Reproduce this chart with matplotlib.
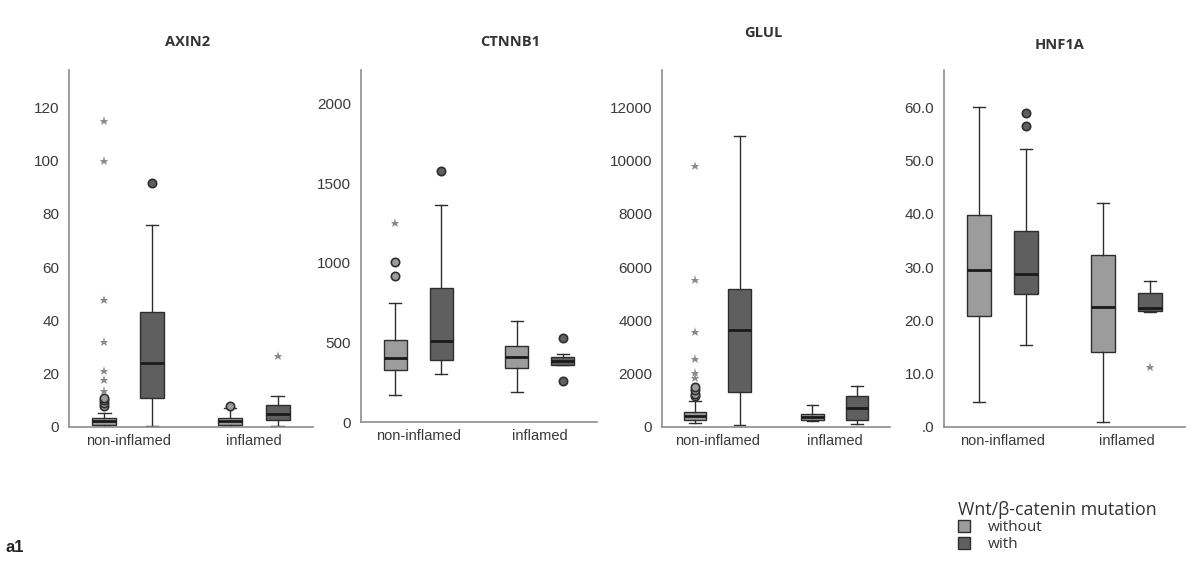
import numpy as np
import matplotlib
matplotlib.use("Agg")
import matplotlib.pyplot as plt
from matplotlib.patches import Patch
from matplotlib.ticker import FuncFormatter

plt.rcParams['font.family'] = ['Liberation Sans', 'DejaVu Sans']

genes = ["AXIN2", "CTNNB1", "GLUL", "HNF1A"]
groups = ["non-inflamed", "inflamed"]

# box stats per gene: order = NI without, NI with, I without, I with
# (whislo, q1, med, q3, whishi)
axin2_box = [(0.0, 0.9, 2.1, 3.5, 5.4), (0.3, 10.7, 24.2, 43.0, 76.0),
             (0.0, 0.9, 2.1, 3.5, 7.1), (0.3, 2.8, 5.0, 8.4, 11.5)]
axin2_circ = [[8.0, 9.0, 10.0, 11.0], [91.7], [8.0], []]
axin2_star = [[13.5, 17.5, 21.0, 32.0, 47.6, 100.0, 115.0], [], [], [26.8]]

ctnnb1_box = [(169, 329, 402, 512, 750), (304, 388, 506, 840, 1365),
              (188, 340, 406, 479, 637), (356, 356, 385, 410, 427)]
ctnnb1_circ = [[919, 1006], [1573], [], [256, 527]]
ctnnb1_star = [[1252], [], [], []]

glul_box = [(137, 262, 412, 575, 975), (62, 1325, 3625, 5162, 10937),
            (225, 262, 387, 500, 812), (100, 250, 700, 1162, 1537)]
glul_circ = [[1150, 1250, 1400, 1500], [], [], []]
glul_star = [[1825, 2012, 2537, 3562, 5512, 9787], [], [], []]

hnf1a_box = [(4.6, 20.9, 29.4, 39.8, 60.0), (15.3, 25.0, 28.8, 36.8, 52.1),
             (0.9, 14.0, 22.6, 32.2, 42.1), (21.5, 21.8, 22.4, 25.1, 27.4)]
hnf1a_circ = [[], [56.4, 59.0], [], []]
hnf1a_star = [[], [], [], [11.2]]

ylims = [(0, 134), (0, 2210), (0, 13400), (0, 67)]
yticks = [np.arange(0, 121, 20), np.arange(0, 2001, 500),
          np.arange(0, 12001, 2000), np.arange(0, 61, 10)]

# pixel boxes of the axes: left, right, top, bottom
ax_px = [(69, 313, 70, 427), (361, 597, 70, 422), (662, 890, 70, 427), (944, 1185, 70, 427)]
title_px = [(188, 42), (510, 42), (763, 33), (1060, 45)]

light = "#9c9c9c"
dark = "#5f5f5f"
edge = "#2e2e2e"
W, H = 1192, 572

fig = plt.figure(figsize=(W / 100, H / 100), dpi=100)

all_box = [axin2_box, ctnnb1_box, glul_box, hnf1a_box]
all_circ = [axin2_circ, ctnnb1_circ, glul_circ, hnf1a_circ]
all_star = [axin2_star, ctnnb1_star, glul_star, hnf1a_star]

pos = [-0.19, 0.19, 0.81, 1.19]
cols = [light, dark, light, dark]

for i in range(4):
    l, r, t, b = ax_px[i]
    ax = fig.add_axes([l / W, 1 - b / H, (r - l) / W, (b - t) / H])
    stats = []
    for lo, q1, med, q3, hi in all_box[i]:
        stats.append(dict(whislo=lo, q1=q1, med=med, q3=q3, whishi=hi, fliers=[]))
    res = ax.bxp(stats, positions=pos, widths=0.19, patch_artist=True,
                 showfliers=False,
                 boxprops=dict(edgecolor=edge, linewidth=1.0),
                 medianprops=dict(color="#1a1a1a", linewidth=2.0),
                 whiskerprops=dict(color=edge, linewidth=1.0),
                 capprops=dict(color=edge, linewidth=1.0), capwidths=0.1)
    for p, c in zip(res['boxes'], cols):
        p.set_facecolor(c)
    for k in range(4):
        c = all_circ[i][k]
        if c:
            ax.plot([pos[k]] * len(c), c, 'o', ms=6, mfc=cols[k], mec=edge, mew=1.2)
        s = all_star[i][k]
        if s:
            ax.plot([pos[k]] * len(s), s, '*', ms=6.5, color="#8a8a8a", mew=0)
    ax.set_xlim(-0.47, 1.47)
    ax.set_ylim(*ylims[i])
    ax.set_yticks(yticks[i])
    if i == 3:
        ax.yaxis.set_major_formatter(FuncFormatter(lambda v, p: ".0" if v == 0 else f"{v:.1f}"))
    ax.set_xticks([0, 1])
    ax.set_xticklabels(groups)
    ax.tick_params(axis="y", length=0, labelsize=11, labelcolor="#3a3a3a", pad=7)
    ax.tick_params(axis="x", length=0, labelsize=10.5, labelcolor="#3a3a3a", pad=5)
    for sp in ["top", "right"]:
        ax.spines[sp].set_visible(False)
    for sp in ["left", "bottom"]:
        ax.spines[sp].set_color("#8c8c8c")
        ax.spines[sp].set_linewidth(1.2)
    tx, ty = title_px[i]
    fig.text(tx / W, 1 - ty / H, genes[i], ha="center", va="center",
             fontsize=10.5, fontweight="bold", color="#333333", family="Open Sans")

handles = [Patch(facecolor=light, edgecolor=edge, label="without"),
           Patch(facecolor=dark, edgecolor=edge, label="with")]
leg = fig.legend(handles=handles, loc="upper left", bbox_to_anchor=(947 / W, 1 - 490 / H),
                 frameon=False, title="Wnt/β-catenin mutation", alignment="left",
                 prop=dict(family="Open Sans", size=11), handlelength=0.8, handleheight=0.8,
                 handletextpad=1.2, labelspacing=0.1, borderpad=0.2)
leg.get_title().set_fontsize(12.8)
leg.get_title().set_family("Open Sans")
leg.get_title().set_color("#333333")
for t in leg.get_texts():
    t.set_color("#333333")

fig.text(5 / W, 1 - 547 / H, "a1", fontsize=12, fontweight="bold", va="center", color="#222222")

fig.savefig("out.png", dpi=100)
